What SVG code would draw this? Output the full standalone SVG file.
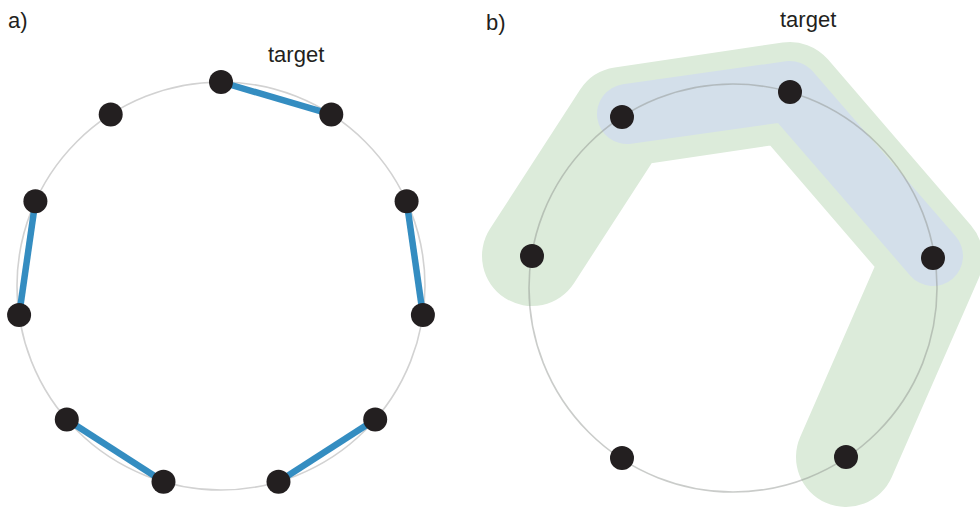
<svg xmlns="http://www.w3.org/2000/svg" width="980" height="508" viewBox="0 0 980 508">
  <style>
    .lbl { font-family: "Liberation Sans", Arial, sans-serif; font-size: 22px; fill: #231f20; }
    .ring-a { fill: none; stroke: #d2d2d2; stroke-width: 1.6; }
    .ring-b { fill: none; stroke: #8a8f8a; stroke-opacity: 0.45; stroke-width: 1.6; }
    .node circle { fill: #231f20; }
    .edge { stroke: #348dc1; stroke-width: 6.5; stroke-linecap: butt; }
    .band { fill: none; stroke-linecap: round; stroke-linejoin: round; }
  </style>

  <!-- panel a -->
  <text class="lbl" x="8" y="28">a)</text>
  <text class="lbl" x="268" y="62">target</text>
  <circle class="ring-a" cx="221" cy="286" r="204"/>

  <g id="edges-a">
    <line class="edge" x1="221" y1="82" x2="331.3" y2="114.4"/>
    <line class="edge" x1="406.6" y1="201.3" x2="422.9" y2="315"/>
    <line class="edge" x1="375.2" y1="419.6" x2="278.5" y2="481.7"/>
    <line class="edge" x1="163.5" y1="481.7" x2="66.8" y2="419.6"/>
    <line class="edge" x1="19.1" y1="315" x2="35.4" y2="201.3"/>
  </g>

  <g id="a0" class="node"><circle cx="221" cy="82" r="12"/></g>
  <g id="a1" class="node"><circle cx="331.3" cy="114.4" r="12"/></g>
  <g id="a2" class="node"><circle cx="406.6" cy="201.3" r="12"/></g>
  <g id="a3" class="node"><circle cx="422.9" cy="315" r="12"/></g>
  <g id="a4" class="node"><circle cx="375.2" cy="419.6" r="12"/></g>
  <g id="a5" class="node"><circle cx="278.5" cy="481.7" r="12"/></g>
  <g id="a6" class="node"><circle cx="163.5" cy="481.7" r="12"/></g>
  <g id="a7" class="node"><circle cx="66.8" cy="419.6" r="12"/></g>
  <g id="a8" class="node"><circle cx="19.1" cy="315" r="12"/></g>
  <g id="a9" class="node"><circle cx="35.4" cy="201.3" r="12"/></g>
  <g id="a10" class="node"><circle cx="110.7" cy="114.4" r="12"/></g>

  <!-- panel b -->
  <text class="lbl" x="486" y="30">b)</text>
  <text class="lbl" x="780" y="27">target</text>

  <g id="bands-b">
    <path class="band" d="M532,256 L622,117 L790,92 L933,258 L846,457" stroke="#dcebda" stroke-width="100"/>
    <path class="band" d="M627,114 L790,91 L933,256" stroke="#d3dfea" stroke-width="60"/>
  </g>

  <circle class="ring-b" cx="733" cy="288" r="204"/>

  <g id="b0" class="node"><circle cx="622" cy="117" r="12"/></g>
  <g id="b1" class="node"><circle cx="790" cy="92" r="12"/></g>
  <g id="b2" class="node"><circle cx="933" cy="258" r="12"/></g>
  <g id="b3" class="node"><circle cx="846" cy="457" r="12"/></g>
  <g id="b4" class="node"><circle cx="622" cy="458" r="12"/></g>
  <g id="b5" class="node"><circle cx="532" cy="256" r="12"/></g>
</svg>
